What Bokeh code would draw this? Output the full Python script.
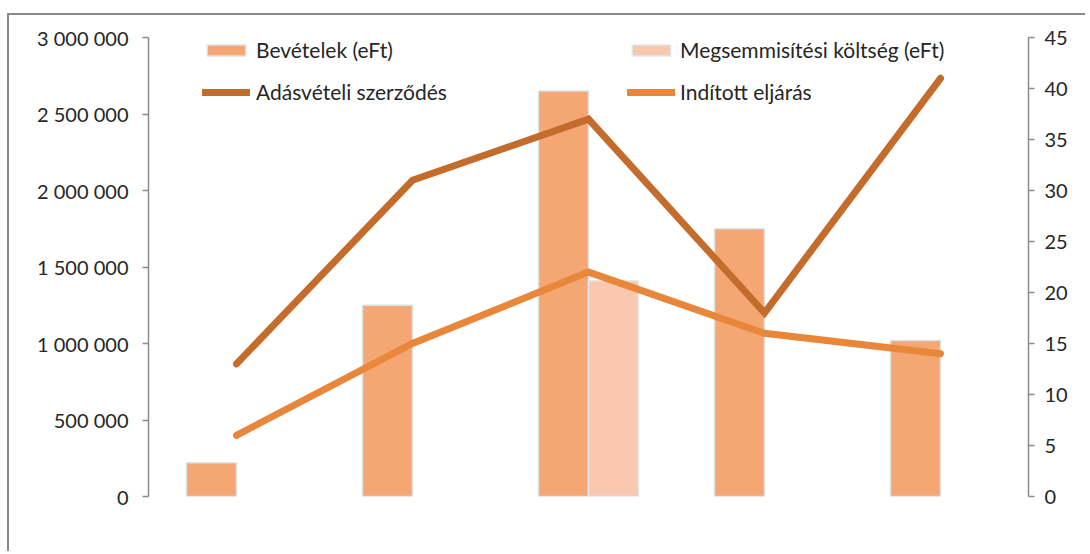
import math
from bokeh.plotting import figure
from bokeh.models import (Range1d, FactorRange, LinearAxis, FixedTicker, Legend,
                          LegendItem, ColumnDataSource)
from bokeh.transform import dodge
from bokeh.embed import file_html
from bokeh.resources import INLINE

categories = ["1", "2", "3", "4", "5"]
bevetelek = [220000, 1250000, 2650000, 1750000, 1020000]
megsemmisitesi = [math.nan, math.nan, 1410000, math.nan, math.nan]
adasveteli = [13, 31, 37, 18, 41]
inditott = [6, 15, 22, 16, 14]
left_ticks = [0, 500000, 1000000, 1500000, 2000000, 2500000, 3000000]
left_labels = ["0", "500 000", "1 000 000", "1 500 000", "2 000 000", "2 500 000", "3 000 000"]
right_ticks = [0, 5, 10, 15, 20, 25, 30, 35, 40, 45]

FONT = "Lato"
TXT = "#262626"
AXC = "#8C8C8C"

src = ColumnDataSource(dict(cat=categories, bev=bevetelek, meg=megsemmisitesi,
                            adas=adasveteli, ind=inditott))

p = figure(width=1078, height=538, x_range=FactorRange(factors=categories),
           y_range=Range1d(0, 3000000), output_backend="svg", toolbar_location=None,
           min_border_left=139, min_border_right=59, min_border_top=22, min_border_bottom=57)
p.styles = {"margin-left": "7px", "margin-top": "13px",
            "border-left": "2px solid #8A8A8A", "border-top": "2px solid #8A8A8A"}
p.extra_y_ranges = {"right": Range1d(0, 45)}
p.outline_line_color = None
p.xgrid.visible = False
p.ygrid.visible = False
p.xaxis.visible = False
p.background_fill_color = "white"

r_bev = p.vbar(x=dodge("cat", -0.142, range=p.x_range), top="bev", width=0.284, source=src,
               fill_color="#F5A773", line_color="#DCE1E6", line_width=1.5)
r_meg = p.vbar(x=dodge("cat", 0.142, range=p.x_range), top="meg", width=0.284, source=src,
               fill_color="#F9C8AE", line_color="#E4E7EA", line_width=1.5)
r_adas = p.line(x="cat", y="adas", source=src, y_range_name="right", line_width=7,
                line_color="#C46C2C", line_cap="round", line_join="miter")
r_ind = p.line(x="cat", y="ind", source=src, y_range_name="right", line_width=7,
               line_color="#E8873A", line_cap="round", line_join="miter")

def style_axis(ax, standoff):
    ax.axis_line_color = AXC
    ax.axis_line_width = 1.5
    ax.major_tick_line_color = AXC
    ax.major_tick_line_width = 1.5
    ax.major_tick_out = 6
    ax.major_tick_in = 0
    ax.minor_tick_line_color = None
    ax.major_label_text_font = FONT
    ax.major_label_text_font_size = "20px"
    ax.major_label_text_color = TXT
    ax.major_label_standoff = standoff

yl = p.yaxis[0]
yl.ticker = FixedTicker(ticks=left_ticks)
yl.major_label_overrides = {t: l for t, l in zip(left_ticks, left_labels)}
style_axis(yl, 14)

yr = LinearAxis(y_range_name="right", ticker=FixedTicker(ticks=right_ticks))
style_axis(yr, 10)
p.add_layout(yr, "right")

def make_legend(items, loc, standoff):
    lg = Legend(items=items, location=loc, orientation="vertical")
    lg.border_line_color = None
    lg.background_fill_alpha = 0
    lg.padding = 0
    lg.margin = 0
    lg.spacing = 17
    lg.glyph_height = 14
    lg.glyph_width = 48
    lg.label_height = 14
    lg.label_standoff = standoff
    lg.label_text_font = FONT
    lg.label_text_font_size = "21px"
    lg.label_text_color = TXT
    return lg

leg1 = make_legend([LegendItem(label="Bevételek (eFt)", renderers=[r_bev]),
                    LegendItem(label="Adásvételi szerződés", renderers=[r_adas])], (54, 392), 6)
leg2 = make_legend([LegendItem(label="Megsemmisítési költség (eFt)", renderers=[r_meg]),
                    LegendItem(label="Indított eljárás", renderers=[r_ind])], (479, 392), 5)
p.add_layout(leg1, "center")
p.add_layout(leg2, "center")

open("out.html", "w").write(file_html(p, INLINE))
